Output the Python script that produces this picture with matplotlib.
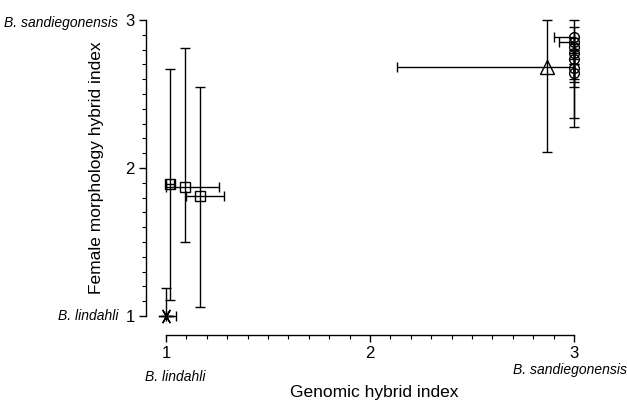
import numpy as np
import matplotlib
matplotlib.use('Agg')
import matplotlib.pyplot as plt
from matplotlib.ticker import FixedLocator

plt.rcParams['font.family'] = ['Liberation Sans', 'DejaVu Sans']

# asterisk: pure B. lindahli
ast_x = [1.0]
ast_y = [1.0]
ast_xerr = [[0.0], [0.05]]
ast_yerr = [[0.0], [0.19]]

# squares
sq_x = [1.02, 1.093, 1.167]
sq_y = [1.892, 1.874, 1.81]
sq_xlo = [1.0, 1.0, 1.098]
sq_xhi = [1.04, 1.26, 1.284]
sq_ylo = [1.108, 1.50, 1.06]
sq_yhi = [2.67, 2.81, 2.55]

# triangle
tri_x = [2.868]
tri_y = [2.68]
tri_xlo = [2.13]
tri_xhi = [3.0]
tri_ylo = [2.11]
tri_yhi = [3.0]

# circles: pure B. sandiegonensis
ci_x = [3.0, 3.0, 3.0, 3.0, 3.0, 3.0, 3.0]
ci_y = [2.885, 2.85, 2.82, 2.78, 2.74, 2.675, 2.64]
ci_xlo = [2.90, 2.926, 3.0, 3.0, 3.0, 3.0, 3.0]
ci_ylo = [2.55, 2.34, 2.78, 2.28, 2.70, 2.60, 2.58]
ci_yhi = [3.0, 2.95, 2.88, 2.84, 2.80, 2.74, 2.70]

fig = plt.figure(figsize=(6.27, 4.05), dpi=100)
ax = fig.add_axes([146/627, 70/405, 444/627, 325/405])

eb = dict(ecolor='black', elinewidth=1.0, capsize=3.6, capthick=1.0,
          linestyle='none', clip_on=False)

def err(v, lo, hi):
    v = np.array(v); return [v - np.array(lo), np.array(hi) - v]

ax.errorbar(ast_x, ast_y, xerr=ast_xerr, yerr=ast_yerr, marker=(6, 2, 90),
            ms=11, mec='black', mfc='none', mew=1.0, **eb)
ax.errorbar(sq_x, sq_y, xerr=err(sq_x, sq_xlo, sq_xhi), yerr=err(sq_y, sq_ylo, sq_yhi),
            marker='s', ms=7.5, mec='black', mfc='none', mew=1.0, **eb)
ax.errorbar(tri_x, tri_y, xerr=err(tri_x, tri_xlo, tri_xhi), yerr=err(tri_y, tri_ylo, tri_yhi),
            marker='^', ms=10, mec='black', mfc='none', mew=1.0, **eb)
ax.errorbar(ci_x, ci_y, xerr=err(ci_x, ci_xlo, ci_x), yerr=err(ci_y, ci_ylo, ci_yhi),
            marker='o', ms=7, mec='black', mfc='none', mew=1.0, **eb)

ax.set_xlim(0.902, 3.078)
ax.set_ylim(0.872, 3.068)

for s in ['top', 'right']:
    ax.spines[s].set_visible(False)
ax.spines['left'].set_bounds(1, 3)
ax.spines['bottom'].set_bounds(1, 3)
ax.spines['left'].set_linewidth(1.0)
ax.spines['bottom'].set_linewidth(1.0)

ax.set_xticks([1, 2, 3])
ax.set_yticks([1, 2, 3])
minors = [v for v in np.round(np.arange(1, 3.001, 0.1), 2) if v not in (1, 2, 3)]
ax.xaxis.set_minor_locator(FixedLocator(minors))
ax.yaxis.set_minor_locator(FixedLocator(minors))
ax.tick_params(which='major', length=5, width=1.0, labelsize=12, pad=3)
ax.tick_params(which='minor', length=3, width=0.8)

ax.set_xlabel('Genomic hybrid index', fontsize=12.5)
ax.set_ylabel('Female morphology hybrid index', fontsize=12.5)
ax.xaxis.set_label_coords(0.5135, -0.178)
ax.xaxis.label.set_verticalalignment('center')
ax.yaxis.set_label_coords(-0.112, 0.514)
ax.yaxis.label.set_verticalalignment('center')

sp = dict(fontsize=10, style='italic', va='center', textcoords='offset points',
          annotation_clip=False)
ax.annotate('B. sandiegonensis', xy=(0, 3), xycoords=('axes fraction', 'data'),
            xytext=(-20, -2), ha='right', **sp)
ax.annotate('B. lindahli', xy=(0, 1), xycoords=('axes fraction', 'data'),
            xytext=(-20, 0), ha='right', **sp)
ax.annotate('B. lindahli', xy=(1, 0), xycoords=('data', 'axes fraction'),
            xytext=(7, -30), ha='center', **sp)
ax.annotate('B. sandiegonensis', xy=(3, 0), xycoords=('data', 'axes fraction'),
            xytext=(-3, -25), ha='center', **sp)

fig.savefig('out.png', dpi=100)
